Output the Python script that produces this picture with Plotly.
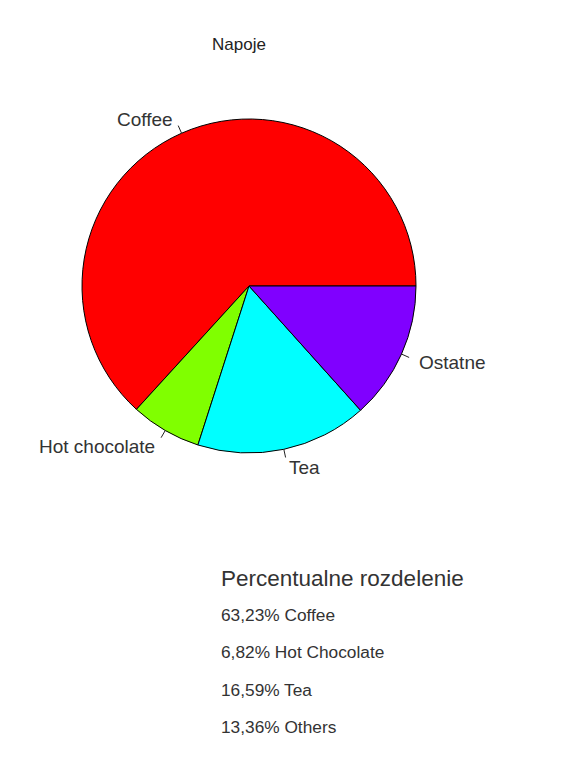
import math
import plotly.graph_objects as go

labels = ["Coffee", "Hot chocolate", "Tea", "Ostatne"]
values = [63.23, 6.82, 16.59, 13.36]
colors = ["#FF0000", "#80FF00", "#00FFFF", "#8000FF"]
summary_title = "Percentualne rozdelenie"
summary_lines = ["63,23% Coffee", "6,82% Hot Chocolate", "16,59% Tea", "13,36% Others"]
title_text = "Napoje"

W, H = 572, 757
CX, CY, R = 249, 286, 167
FONT = "Liberation Sans, Arial, sans-serif"
TXT = "#333333"

def px2x(p):
    return p / W

def py2y(p):
    return 1 - p / H

total = sum(values)
# plotly (counterclockwise): first slice ends at `rotation`; make it start at 3 o'clock going CCW like R
rotation = 90 - 360 * values[0] / total

fig = go.Figure()
fig.add_trace(go.Pie(
    labels=labels, values=values, sort=False,
    direction="counterclockwise", rotation=rotation,
    marker=dict(colors=colors, line=dict(color="black", width=1)),
    textinfo="none", hoverinfo="label+percent", showlegend=False,
    domain=dict(x=[px2x(CX - R), px2x(CX + R)], y=[py2y(CY + R), py2y(CY - R)]),
))

annotations = []
shapes = []
cum = 0.0
for lab, v in zip(labels, values):
    mid = 2 * math.pi * (cum + v / 2) / total
    cum += v
    c, s = math.cos(mid), math.sin(mid)
    shapes.append(dict(type="line", xref="paper", yref="paper",
                       x0=px2x(CX + R * c), y0=py2y(CY - R * s),
                       x1=px2x(CX + 1.05 * R * c), y1=py2y(CY - 1.05 * R * s),
                       line=dict(color="#222222", width=1)))
    annotations.append(dict(text=lab, xref="paper", yref="paper",
                            x=px2x(CX + 1.1 * R * c), y=py2y(CY - 1.1 * R * s + 2),
                            xanchor="left" if c > 0 else "right", yanchor="middle",
                            showarrow=False, font=dict(family=FONT, size=19, color=TXT)))

annotations.append(dict(text=title_text, xref="paper", yref="paper",
                        x=px2x(239), y=py2y(44), xanchor="center", yanchor="middle",
                        showarrow=False, font=dict(family=FONT, size=17, color="#222222")))
annotations.append(dict(text=summary_title, xref="paper", yref="paper",
                        x=px2x(219), y=py2y(578), xanchor="left", yanchor="middle",
                        showarrow=False, font=dict(family=FONT, size=22.5, color=TXT)))
for i, line in enumerate(summary_lines):
    annotations.append(dict(text=line, xref="paper", yref="paper",
                            x=px2x(219), y=py2y(615 + 37.3 * i), xanchor="left", yanchor="middle",
                            showarrow=False, font=dict(family=FONT, size=17.3, color=TXT)))

fig.update_layout(width=W, height=H, margin=dict(l=0, r=0, t=0, b=0),
                  paper_bgcolor="white", plot_bgcolor="white",
                  annotations=annotations, shapes=shapes)
fig.write_html("out.html")
